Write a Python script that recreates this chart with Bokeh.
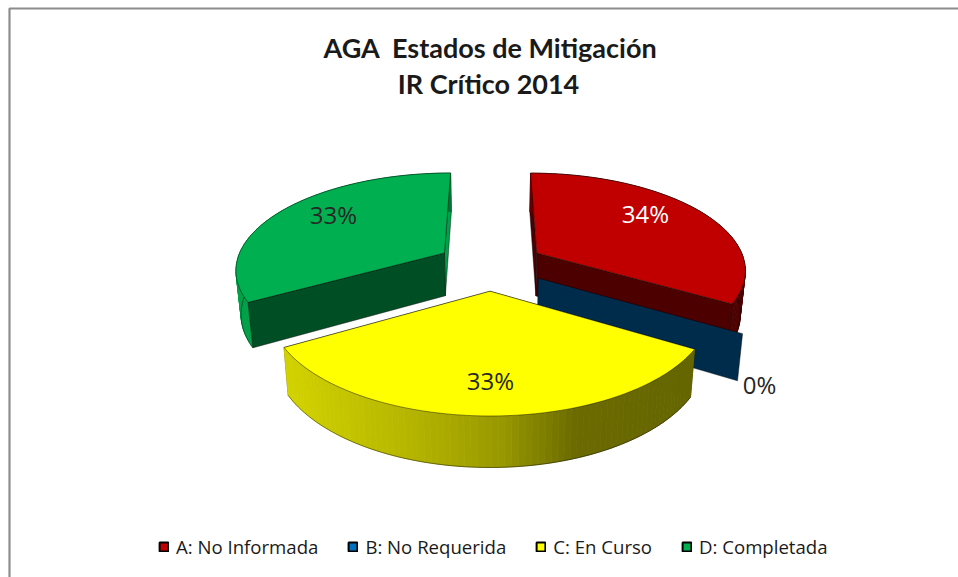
import math
import numpy as np
from bokeh.plotting import figure
from bokeh.models import Range1d, Legend, LegendItem, ColumnDataSource
from bokeh.core.properties import value
from bokeh.embed import file_html
from bokeh.resources import INLINE

# ---- data
categories = ["A: No Informada", "B: No Requerida", "C: En Curso", "D: Completada"]
shares = [33.5, 0.0, 33.25, 33.25]
title_lines = ["AGA \u00a0Estados de Mitigación", "IR Crítico 2014"]

# ---- style
face_colors = ["#C00000", "#0070C0", "#FFFF00", "#00B050"]
wall_shade = [(0.40, 0.40), (0.40, 0.40), (0.40, 0.40), (0.45, 0.92)]
label_colors = ["#FFFFFF", "#262626", "#262626", "#262626"]
label_pos = [(645, 213), (759, 384), (490, 380), (333, 214)]

# projection of the tilted pie, in page pixels
CX, CY, A, B, K, EXPL = 490.0, 264.7, 209.0, 96.0, 0.157, 0.26
DEPTH, DEPTH_G, BOTTOM_SX = 43.5, 0.053, 0.98
RIM_X = [235, 284, 400, 500, 575, 700]
RIM_F = [0.92, 0.83, 0.72, 0.60, 0.42, 0.40]

p = figure(width=958, height=577, output_backend="svg", toolbar_location=None,
           x_range=Range1d(0, 958), y_range=Range1d(577, 0),
           x_axis_type=None, y_axis_type=None, min_border=0)
p.outline_line_color = None
p.background_fill_color = "#FFFFFF"
p.border_fill_color = "#FFFFFF"


def shade(col, f):
    r, g, b = int(col[1:3], 16), int(col[3:5], 16), int(col[5:7], 16)
    return "#%02X%02X%02X" % (int(r * f), int(g * f), int(b * f))


def top_pt(theta, bis, r=1.0):
    X = EXPL * math.sin(bis) + r * math.sin(theta)
    Z = EXPL * math.cos(bis) + r * math.cos(theta)
    D = 1 + K * Z
    return CX + A * X / D, CY - B * Z / D


def bot_pt(pt):
    x, y = pt
    return CX + (x - CX) * BOTTOM_SX, y + DEPTH + DEPTH_G * (y - CY)


EDGE = dict(line_color="#000000", line_alpha=0.55, line_width=0.8)

# border of the chart area (top and left only are visible)
p.line([9, 9, 958], [577, 8, 8], line_color="#8C8C8C", line_width=2.2)

# slice geometry from the shares
total = sum(shares)
angles = np.cumsum([0] + shares) / total * 2 * math.pi
slices = []
for i in range(len(shares)):
    a0, a1 = float(angles[i]), float(angles[i + 1])
    slices.append(dict(i=i, a0=a0, a1=a1, bis=(a0 + a1) / 2))


def draw_wall(ang, f, apex, bis, col):
    tip = top_pt(ang, bis)
    b_apex, b_tip = bot_pt(apex), bot_pt(tip)
    p.patch([apex[0], tip[0], b_tip[0], b_apex[0]],
            [apex[1], tip[1], b_tip[1], b_apex[1]],
            fill_color=shade(col, f), **EDGE)


def draw_rim(a0, a1, bis, col):
    n = int(max((a1 - a0) / math.radians(1.5), 1))
    ts = np.linspace(a0, a1, n + 1)
    xs, ys, cs = [], [], []
    for t0, t1 in zip(ts[:-1], ts[1:]):
        q0, q1 = top_pt(t0, bis), top_pt(t1, bis)
        b0, b1 = bot_pt(q0), bot_pt(q1)
        xs.append([q0[0], q1[0], b1[0], b0[0]])
        ys.append([q0[1], q1[1], b1[1], b0[1]])
        cs.append(shade(col, float(np.interp((q0[0] + q1[0]) / 2, RIM_X, RIM_F))))
    p.patches(xs, ys, fill_color=cs, line_color=cs, line_width=0.8)
    vis = [t for t in ts if math.radians(80) <= t <= math.radians(282)]
    if len(vis) > 1:
        pts = [bot_pt(top_pt(t, bis)) for t in vis]
        p.line([q[0] for q in pts], [q[1] for q in pts], **EDGE)


# painter's order: rear slices first, front slice last
order = [3, 0, 1, 2]
for i in order:
    s = slices[i]
    col = face_colors[i]
    a0, a1, bis = s["a0"], s["a1"], s["bis"]
    apex = top_pt(0, bis, 0.0)
    span = a1 - a0
    if span <= 0:
        draw_wall(a0, wall_shade[i][0], apex, bis, col)
        continue
    # a wall whose outward normal points away from the viewer goes behind the rim
    start_front = math.cos(a0 - math.pi / 2) < -0.01
    end_front = math.cos(a1 + math.pi / 2) < -0.01
    if not start_front:
        draw_wall(a0, wall_shade[i][0], apex, bis, col)
    if not end_front:
        draw_wall(a1, wall_shade[i][1], apex, bis, col)
    draw_rim(a0, a1, bis, col)
    if start_front:
        draw_wall(a0, wall_shade[i][0], apex, bis, col)
    if end_front:
        draw_wall(a1, wall_shade[i][1], apex, bis, col)
    ts = np.linspace(a0, a1, 120)
    pts = [top_pt(t, bis) for t in ts]
    p.patch([apex[0]] + [q[0] for q in pts], [apex[1]] + [q[1] for q in pts],
            fill_color=col, **EDGE)

# percentage labels
p.text([q[0] for q in label_pos], [q[1] for q in label_pos],
       text=[f"{round(v)}%" for v in shares], text_color=label_colors,
       text_font=value("Open Sans"), text_font_size="24px",
       text_align="center", text_baseline="middle")

# title
p.text([490, 488], [47, 83], text=title_lines, text_color="#1A1A1A",
       text_font=value("Lato"), text_font_size="27px", text_font_style="bold",
       text_align="center", text_baseline="middle")

# legend
items = []
for name, col in zip(categories, face_colors):
    src = ColumnDataSource(dict(left=[float("nan")], right=[float("nan")],
                                top=[float("nan")], bottom=[float("nan")]))
    r = p.quad(left="left", right="right", top="top", bottom="bottom", source=src,
               fill_color=col, line_color="#000000", line_width=2)
    items.append(LegendItem(label=name, renderers=[r]))
legend = Legend(items=items, orientation="horizontal", location=(158, 18),
                glyph_width=11, glyph_height=11, label_standoff=7, spacing=29,
                padding=0, margin=0, border_line_color=None, background_fill_alpha=0,
                label_text_font="Open Sans", label_text_font_size="18.6px",
                label_text_color="#1A1A1A")
p.add_layout(legend)

open("out.html", "w").write(file_html(p, INLINE))
